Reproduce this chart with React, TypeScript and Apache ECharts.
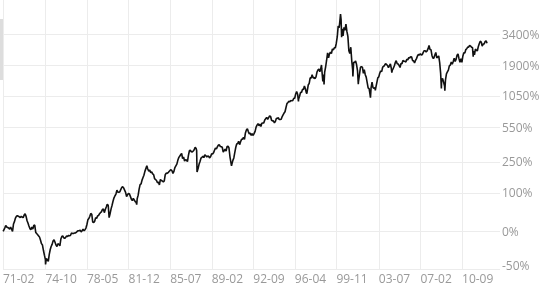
import React, { useEffect, useRef } from 'react';
import * as echarts from 'echarts';

// Index level (start = 100), log scale
const dates: string[] = [
  '1971-02-05','1971-03-28','1971-04-28','1971-05-28','1971-06-28','1971-07-28','1971-08-28','1971-09-28','1971-10-28','1971-11-28','1971-12-28',
  '1972-01-28','1972-02-28','1972-03-28','1972-04-28','1972-05-28','1972-06-28','1972-07-28','1972-08-28','1972-09-28','1972-10-28','1972-11-28','1972-12-28',
  '1973-01-28','1973-02-28','1973-03-28','1973-04-28','1973-05-28','1973-06-28','1973-07-28','1973-08-28','1973-09-28','1973-10-28','1973-11-28','1973-12-28',
  '1974-01-28','1974-02-28','1974-03-28','1974-04-28','1974-05-28','1974-06-28','1974-07-28','1974-08-28','1974-09-28','1974-10-03','1974-10-28','1974-11-28','1974-12-28',
  '1975-01-28','1975-02-28','1975-03-28','1975-04-28','1975-05-28','1975-06-28','1975-07-28','1975-08-28','1975-09-28','1975-10-28','1975-11-28','1975-12-28',
  '1976-01-28','1976-02-28','1976-03-28','1976-04-28','1976-05-28','1976-06-28','1976-07-28','1976-08-28','1976-09-28','1976-10-28','1976-11-28','1976-12-28',
  '1977-01-28','1977-02-28','1977-03-28','1977-04-28','1977-05-28','1977-06-28','1977-07-28','1977-08-28','1977-09-28','1977-10-28','1977-11-28','1977-12-28',
  '1978-01-28','1978-02-28','1978-03-28','1978-04-28','1978-05-28','1978-06-28','1978-07-28','1978-08-28','1978-09-28','1978-10-28','1978-11-28','1978-12-28',
  '1979-01-28','1979-02-28','1979-03-28','1979-04-28','1979-05-28','1979-06-28','1979-07-28','1979-08-28','1979-09-28','1979-10-28','1979-11-28','1979-12-28',
  '1980-01-28','1980-02-28','1980-03-27','1980-04-28','1980-05-28','1980-06-28','1980-07-28','1980-08-28','1980-09-28','1980-10-28','1980-11-28','1980-12-28',
  '1981-01-28','1981-02-28','1981-03-28','1981-04-28','1981-05-28','1981-06-28','1981-07-28','1981-08-28','1981-09-28','1981-10-28','1981-11-28','1981-12-28',
  '1982-01-28','1982-02-28','1982-03-28','1982-04-28','1982-05-28','1982-06-28','1982-07-28','1982-08-13','1982-08-28','1982-09-28','1982-10-28','1982-11-28','1982-12-28',
  '1983-01-28','1983-02-28','1983-03-28','1983-04-28','1983-05-28','1983-06-28','1983-07-28','1983-08-28','1983-09-28','1983-10-28','1983-11-28','1983-12-28',
  '1984-01-28','1984-02-28','1984-03-28','1984-04-28','1984-05-28','1984-06-28','1984-07-28','1984-08-28','1984-09-28','1984-10-28','1984-11-28','1984-12-28',
  '1985-01-28','1985-02-28','1985-03-28','1985-04-28','1985-05-28','1985-06-28','1985-07-28','1985-08-28','1985-09-28','1985-10-28','1985-11-28','1985-12-28',
  '1986-01-28','1986-02-28','1986-03-28','1986-04-28','1986-05-28','1986-06-28','1986-07-28','1986-08-28','1986-09-28','1986-10-28','1986-11-28','1986-12-28',
  '1987-01-28','1987-02-28','1987-03-28','1987-04-28','1987-05-28','1987-06-28','1987-07-28','1987-08-28','1987-09-28','1987-10-14','1987-10-26','1987-11-28','1987-12-28',
  '1988-01-28','1988-02-28','1988-03-28','1988-04-28','1988-05-28','1988-06-28','1988-07-28','1988-08-28','1988-09-28','1988-10-28','1988-11-28','1988-12-28',
  '1989-01-28','1989-02-28','1989-03-28','1989-04-28','1989-05-28','1989-06-28','1989-07-28','1989-08-28','1989-09-28','1989-10-28','1989-11-28','1989-12-28',
  '1990-01-28','1990-02-28','1990-03-28','1990-04-28','1990-05-28','1990-06-28','1990-07-28','1990-08-28','1990-09-28','1990-10-16','1990-10-28','1990-11-28','1990-12-28',
  '1991-01-28','1991-02-28','1991-03-28','1991-04-28','1991-05-28','1991-06-28','1991-07-28','1991-08-28','1991-09-28','1991-10-28','1991-11-28','1991-12-28',
  '1992-01-28','1992-02-28','1992-03-28','1992-04-28','1992-05-28','1992-06-28','1992-07-28','1992-08-28','1992-09-28','1992-10-28','1992-11-28','1992-12-28',
  '1993-01-28','1993-02-28','1993-03-28','1993-04-28','1993-05-28','1993-06-28','1993-07-28','1993-08-28','1993-09-28','1993-10-28','1993-11-28','1993-12-28',
  '1994-01-28','1994-02-28','1994-03-28','1994-04-28','1994-05-28','1994-06-28','1994-07-28','1994-08-28','1994-09-28','1994-10-28','1994-11-28','1994-12-28',
  '1995-01-28','1995-02-28','1995-03-28','1995-04-28','1995-05-28','1995-06-28','1995-07-28','1995-08-28','1995-09-28','1995-10-28','1995-11-28','1995-12-28',
  '1996-01-28','1996-02-28','1996-03-28','1996-04-28','1996-05-28','1996-06-28','1996-07-24','1996-07-28','1996-08-28','1996-09-28','1996-10-28','1996-11-28','1996-12-28',
  '1997-01-28','1997-02-28','1997-03-28','1997-04-14','1997-04-28','1997-05-28','1997-06-28','1997-07-28','1997-08-28','1997-09-28','1997-10-28','1997-11-28','1997-12-28',
  '1998-01-28','1998-02-28','1998-03-28','1998-04-28','1998-05-28','1998-06-28','1998-07-20','1998-07-28','1998-08-31','1998-09-28','1998-10-08','1998-10-28','1998-11-28','1998-12-28',
  '1999-01-28','1999-02-28','1999-03-28','1999-04-28','1999-05-28','1999-06-28','1999-07-28','1999-08-28','1999-09-28','1999-10-28','1999-11-28','1999-12-28',
  '2000-01-28','2000-02-28','2000-03-10','2000-03-28','2000-04-14','2000-04-28','2000-05-28','2000-06-28','2000-07-28','2000-08-28','2000-09-28','2000-10-28','2000-11-28','2000-12-28',
  '2001-01-28','2001-02-28','2001-03-28','2001-04-04','2001-04-28','2001-05-28','2001-06-28','2001-07-28','2001-08-28','2001-09-21','2001-09-28','2001-10-28','2001-11-28','2001-12-28',
  '2002-01-28','2002-02-28','2002-03-28','2002-04-28','2002-05-28','2002-06-28','2002-07-28','2002-08-28','2002-09-28','2002-10-09','2002-10-28','2002-11-28','2002-12-28',
  '2003-01-28','2003-02-28','2003-03-11','2003-03-28','2003-04-28','2003-05-28','2003-06-28','2003-07-28','2003-08-28','2003-09-28','2003-10-28','2003-11-28','2003-12-28',
  '2004-01-28','2004-02-28','2004-03-28','2004-04-28','2004-05-28','2004-06-28','2004-07-28','2004-08-12','2004-08-28','2004-09-28','2004-10-28','2004-11-28','2004-12-28',
  '2005-01-28','2005-02-28','2005-03-28','2005-04-28','2005-05-28','2005-06-28','2005-07-28','2005-08-28','2005-09-28','2005-10-28','2005-11-28','2005-12-28',
  '2006-01-28','2006-02-28','2006-03-28','2006-04-28','2006-05-28','2006-06-28','2006-07-28','2006-08-28','2006-09-28','2006-10-28','2006-11-28','2006-12-28',
  '2007-01-28','2007-02-28','2007-03-28','2007-04-28','2007-05-28','2007-06-28','2007-07-28','2007-08-28','2007-09-28','2007-10-28','2007-11-28','2007-12-28',
  '2008-01-28','2008-02-28','2008-03-28','2008-04-28','2008-05-28','2008-06-28','2008-07-28','2008-08-28','2008-09-28','2008-10-28','2008-11-20','2008-11-28','2008-12-28',
  '2009-01-28','2009-02-28','2009-03-09','2009-03-28','2009-04-28','2009-05-28','2009-06-28','2009-07-28','2009-08-28','2009-09-28','2009-10-28','2009-11-28','2009-12-28',
  '2010-01-28','2010-02-28','2010-03-28','2010-04-28','2010-05-28','2010-06-28','2010-07-28','2010-08-28','2010-09-28','2010-10-28','2010-11-28','2010-12-28',
  '2011-01-28','2011-02-28','2011-03-28','2011-04-28','2011-05-28','2011-06-28','2011-07-28','2011-08-19','2011-08-28','2011-09-28','2011-10-28','2011-11-28','2011-12-28',
  '2012-01-28','2012-02-28','2012-03-28','2012-04-28','2012-05-28','2012-06-28','2012-07-28','2012-08-28','2012-09-28','2012-10-28',
];

const values: number[] = [
  100,106,111,108,107,106,104,108,104,100,114,
  119,127,131,133,131,130,128,131,129,128,134,137,
  131,121,116,110,105,103,108,104,111,112,98,96,
  94,92,90,85,80,78,71,65,60,55,61,60,58,
  66,72,76,79,84,86,82,78,76,80,79,77,
  87,91,92,89,88,90,92,91,93,92,93,97,
  96,96,97,97,98,100,101,101,102,99,101,104,
  101,103,106,113,123,126,131,138,136,118,117,120,
  128,126,132,133,137,140,142,148,150,140,148,155,
  163,160,128,138,150,160,172,183,190,196,210,203,
  202,204,212,220,224,219,210,202,187,194,198,196,
  187,178,174,181,176,171,168,162,180,192,214,232,235,
  252,264,275,295,310,326,308,296,302,288,292,282,
  278,258,255,250,240,243,231,255,250,248,244,248,
  278,286,284,288,294,300,304,298,284,295,316,326,
  336,360,378,388,398,408,372,383,356,364,362,352,
  394,428,432,420,418,426,436,456,446,430,292,310,335,
  352,375,380,388,378,398,392,382,390,386,376,386,
  406,404,412,432,450,442,460,474,476,462,460,456,
  418,430,440,426,460,466,450,384,346,326,336,360,376,
  416,456,484,488,508,478,504,526,528,545,525,590,
  622,636,605,580,588,565,583,565,585,607,655,680,
  698,672,692,664,702,706,708,745,765,780,756,778,
  802,795,745,734,736,708,724,768,766,778,752,753,
  756,794,818,845,866,935,1002,1022,1045,1038,1060,1053,
  1062,1102,1103,1192,1245,1188,1042,1082,1144,1228,1224,1295,1292,
  1380,1310,1224,1201,1262,1402,1444,1595,1588,1688,1595,1602,1572,
  1622,1772,1836,1870,1780,1896,2014,1874,1499,1694,1419,1772,1950,2193,
  2506,2290,2462,2544,2472,2688,2640,2740,2748,2968,3338,4070,
  3942,4698,5048,4574,3321,3862,3402,3968,3768,4208,3674,3372,2598,2472,
  2774,2152,1841,1638,2117,2110,2162,2028,1806,1424,1500,1691,1932,1951,
  1935,1732,1846,1689,1616,1464,1329,1315,1173,1114,1330,1479,1336,
  1321,1338,1272,1342,1465,1596,1623,1735,1811,1787,1933,1960,2003,
  2066,2030,1994,1920,1987,2048,1887,1752,1838,1897,1975,2097,2175,
  2062,2052,1999,1922,2068,2057,2185,2152,2152,2120,2233,2205,
  2306,2281,2340,2323,2179,2172,2091,2184,2258,2367,2432,2415,
  2464,2416,2422,2525,2605,2603,2546,2596,2701,2859,2661,2652,
  2390,2271,2279,2413,2523,2293,2326,2368,2092,1721,1316,1536,1577,
  1476,1378,1268,1529,1717,1774,1835,1979,2009,2122,2045,2145,2269,
  2147,2238,2398,2461,2257,2109,2255,2114,2369,2507,2498,2653,
  2700,2782,2781,2873,2835,2774,2756,2342,2579,2415,2684,2620,2605,
  2814,2967,3091,3046,2827,2935,2940,3067,3116,2977,
];

const xTickDates = ['1971-02-01','1974-10-01','1978-05-01','1981-12-01','1985-07-01','1989-02-01','1992-09-01','1996-04-01','1999-11-01','2003-07-01','2007-02-01','2010-09-01'];
const yTickValues = [50, 100, 200, 350, 650, 1150, 2000, 3500];
const yTickLabels = ['-50%', '0%', '100%', '250%', '550%', '1050%', '1900%', '3400%'];

const toTs = (s: string) => {
  const [y, m, d] = s.split('-').map(Number);
  return new Date(y, m - 1, d || 1).getTime();
};

const LABEL_COLOR = '#999999';
const FONT = 'Open Sans';

export default function App() {
  const ref = useRef<HTMLDivElement>(null);
  useEffect(() => {
    if (!ref.current) return;
    const chart = echarts.init(ref.current, null, { renderer: 'svg' });
    const xTicks = xTickDates.map(toTs);
    chart.setOption({
      animation: false,
      grid: { left: 3, right: 54, top: 0, bottom: 18.3 },
      xAxis: {
        type: 'value',
        min: toTs('1971-02-01'),
        max: toTs('2013-12-10'),
        axisLine: { show: false },
        axisTick: { show: false, customValues: xTicks },
        axisLabel: {
          customValues: xTicks,
          align: 'left',
          margin: 3,
          color: LABEL_COLOR,
          fontSize: 12,
          fontFamily: FONT,
          formatter: (v: number) => {
            const d = new Date(v);
            return String(d.getFullYear()).slice(2) + '-' + String(d.getMonth() + 1).padStart(2, '0');
          },
        },
        splitLine: { show: true, lineStyle: { color: '#ececec', width: 1 } },
      },
      yAxis: {
        type: 'log',
        logBase: 10,
        position: 'right',
        min: 50,
        max: 6505,
        axisLine: { show: false },
        axisTick: { show: false, customValues: yTickValues },
        axisLabel: {
          customValues: yTickValues,
          margin: 2,
          color: LABEL_COLOR,
          fontSize: 12,
          fontFamily: FONT,
          formatter: (v: number) => {
            let best = 0;
            yTickValues.forEach((t, i) => {
              if (Math.abs(Math.log(t / v)) < Math.abs(Math.log(yTickValues[best] / v))) best = i;
            });
            return best === 0 ? '{lo|' + yTickLabels[0] + '}' : yTickLabels[best];
          },
          rich: {
            lo: { padding: [0, 0, 8, 0], color: LABEL_COLOR, fontSize: 12, fontFamily: FONT },
          },
        },
        splitLine: { show: true, lineStyle: { color: '#ececec', width: 1 } },
      },
      graphic: [
        { type: 'rect', shape: { x: 0, y: 19, width: 4, height: 61 }, style: { fill: '#dddddd' }, silent: true },
      ],
      series: [
        {
          type: 'line',
          data: dates.map((d, i) => [toTs(d), values[i]]),
          showSymbol: false,
          symbol: 'none',
          silent: true,
          lineStyle: { color: '#111111', width: 1.6 },
        },
      ],
    });
    return () => chart.dispose();
  }, []);
  return <div ref={ref} style={{ position: 'fixed', left: 0, top: 0, width: 554, height: 288 }} />;
}
